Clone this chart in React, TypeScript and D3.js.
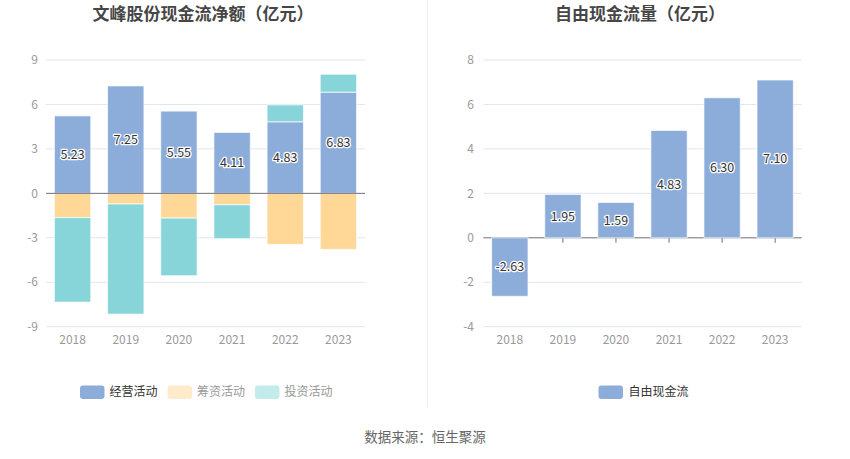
import * as d3 from "d3";

const years = ["2018", "2019", "2020", "2021", "2022", "2023"];
const operating = [5.23, 7.25, 5.55, 4.11, 4.83, 6.83];
const financing = [-1.64, -0.72, -1.67, -0.77, -3.45, -3.78];
const investing = [-5.7, -7.43, -3.89, -2.29, 1.14, 1.21];
const freeCash = [-2.63, 1.95, 1.59, 4.83, 6.3, 7.1];
const leftTicks = [-9, -6, -3, 0, 3, 6, 9];
const rightTicks = [-4, -2, 0, 2, 4, 6, 8];

const W = 850;
const H = 459;
const FONT = "'Noto Sans CJK SC', 'Noto Sans', sans-serif";
const BLUE = "#8CACDA";
const YELLOW = "#FFD898";
const TEAL = "#88D5D9";
const GRID = "#E0E6F1";
const AXIS = "#6E7079";
const LABEL = "#999";
const BAR_FRAC = 0.684;

const keys = ["operating", "financing", "investing"] as const;
const colors: Record<string, string> = { operating: BLUE, financing: YELLOW, investing: TEAL };

const rows = years.map((y, i) => ({
  year: y,
  operating: operating[i],
  financing: financing[i],
  investing: investing[i],
}));

function ValueLabel({ x, y, v }: { x: number; y: number; v: number }) {
  return (
    <text
      x={x}
      y={y}
      dy="0.35em"
      textAnchor="middle"
      fontSize={12.5}
      fill="#333"
      stroke="#fff"
      strokeWidth={2.5}
      paintOrder="stroke"
      strokeLinejoin="round"
    >
      {v.toFixed(2)}
    </text>
  );
}

function LeftChart() {
  const x = d3.scaleBand().domain(years).range([46, 365]);
  const y = d3.scaleLinear().domain([-9, 9]).range([326.7, 60]);
  const bw = x.bandwidth() * BAR_FRAC;
  const series = d3
    .stack<(typeof rows)[0]>()
    .keys(keys as unknown as string[])
    .offset(d3.stackOffsetDiverging)(rows);

  return (
    <g>
      {leftTicks.map((t) => (
        <g key={t}>
          {t !== 0 && <line x1={46} x2={365} y1={y(t)} y2={y(t)} stroke={GRID} />}
          <text x={38} y={y(t)} dy="0.35em" textAnchor="end" fontSize={12} fill={LABEL}>
            {t}
          </text>
        </g>
      ))}
      {series.map((s) =>
        s.map((d, i) => {
          const cx = x(years[i])! + x.bandwidth() / 2;
          const top = y(Math.max(d[0], d[1]));
          const bot = y(Math.min(d[0], d[1]));
          return (
            <rect
              key={s.key + i}
              x={cx - bw / 2}
              y={top}
              width={bw}
              height={bot - top}
              fill={colors[s.key]}
              stroke="rgba(255,255,255,0.7)"
              strokeWidth={1}
            />
          );
        })
      )}
      <line x1={46} x2={365} y1={y(0)} y2={y(0)} stroke={AXIS} />
      {years.map((yr, i) => {
        const cx = x(yr)! + x.bandwidth() / 2;
        return (
          <g key={yr}>
            <text x={cx} y={340} dy="0.35em" textAnchor="middle" fontSize={12} fill={LABEL}>
              {yr}
            </text>
            <ValueLabel x={cx} y={y(operating[i] / 2)} v={operating[i]} />
          </g>
        );
      })}
      <text x={203} y={14} dy="0.35em" textAnchor="middle" fontSize={17} fontWeight="bold" fill="#464646">
        文峰股份现金流净额（亿元）
      </text>
      {[
        { label: "经营活动", sw: BLUE, tc: "#333", x0: 80 },
        { label: "筹资活动", sw: "#FFEBCC", tc: "#999", x0: 167.5 },
        { label: "投资活动", sw: "#C3EBEC", tc: "#999", x0: 255 },
      ].map((l) => (
        <g key={l.label}>
          <rect x={l.x0} y={385.5} width={24.5} height={13.5} rx={3} fill={l.sw} />
          <text x={l.x0 + 29.5} y={392} dy="0.35em" fontSize={12} fill={l.tc}>
            {l.label}
          </text>
        </g>
      ))}
    </g>
  );
}

function RightChart() {
  const x = d3.scaleBand().domain(years).range([483.3, 801.7]);
  const y = d3.scaleLinear().domain([-4, 8]).range([326.7, 60]);
  const bw = x.bandwidth() * BAR_FRAC;

  return (
    <g>
      {rightTicks.map((t) => (
        <g key={t}>
          {t !== 0 && <line x1={483.3} x2={801.7} y1={y(t)} y2={y(t)} stroke={GRID} />}
          <text x={474} y={y(t)} dy="0.35em" textAnchor="end" fontSize={12} fill={LABEL}>
            {t}
          </text>
        </g>
      ))}
      <line x1={483.3} x2={801.7} y1={y(0)} y2={y(0)} stroke={AXIS} />
      {years.map((yr) => {
        const cx = x(yr)! + x.bandwidth() / 2;
        return <line key={yr} x1={cx} x2={cx} y1={y(0)} y2={y(0) + 5} stroke={AXIS} />;
      })}
      {freeCash.map((v, i) => {
        const cx = x(years[i])! + x.bandwidth() / 2;
        const top = y(Math.max(0, v));
        const bot = y(Math.min(0, v));
        return (
          <rect
            key={i}
            x={cx - bw / 2}
            y={top}
            width={bw}
            height={bot - top}
            fill={BLUE}
            stroke="rgba(255,255,255,0.7)"
            strokeWidth={1}
          />
        );
      })}
      {years.map((yr, i) => {
        const cx = x(yr)! + x.bandwidth() / 2;
        return (
          <g key={yr}>
            <text x={cx} y={340} dy="0.35em" textAnchor="middle" fontSize={12} fill={LABEL}>
              {yr}
            </text>
            <ValueLabel x={cx} y={y(freeCash[i] / 2)} v={freeCash[i]} />
          </g>
        );
      })}
      <text x={640} y={14} dy="0.35em" textAnchor="middle" fontSize={17} fontWeight="bold" fill="#464646">
        自由现金流量（亿元）
      </text>
      <rect x={598.5} y={385.5} width={24.5} height={13.5} rx={3} fill={BLUE} />
      <text x={628.5} y={392} dy="0.35em" fontSize={12} fill="#333">
        自由现金流
      </text>
    </g>
  );
}

export default function App() {
  return (
    <>
      <style>{`body { margin: 0; }`}</style>
      <svg width={W} height={H} style={{ display: "block", fontFamily: FONT, background: "#fff" }}>
        <line x1={427.5} x2={427.5} y1={0} y2={408} stroke="#EEEEEE" />
        <LeftChart />
        <RightChart />
        <text x={425} y={437} dy="0.35em" textAnchor="middle" fontSize={13.5} fill="#666">
          数据来源：恒生聚源
        </text>
      </svg>
    </>
  );
}
